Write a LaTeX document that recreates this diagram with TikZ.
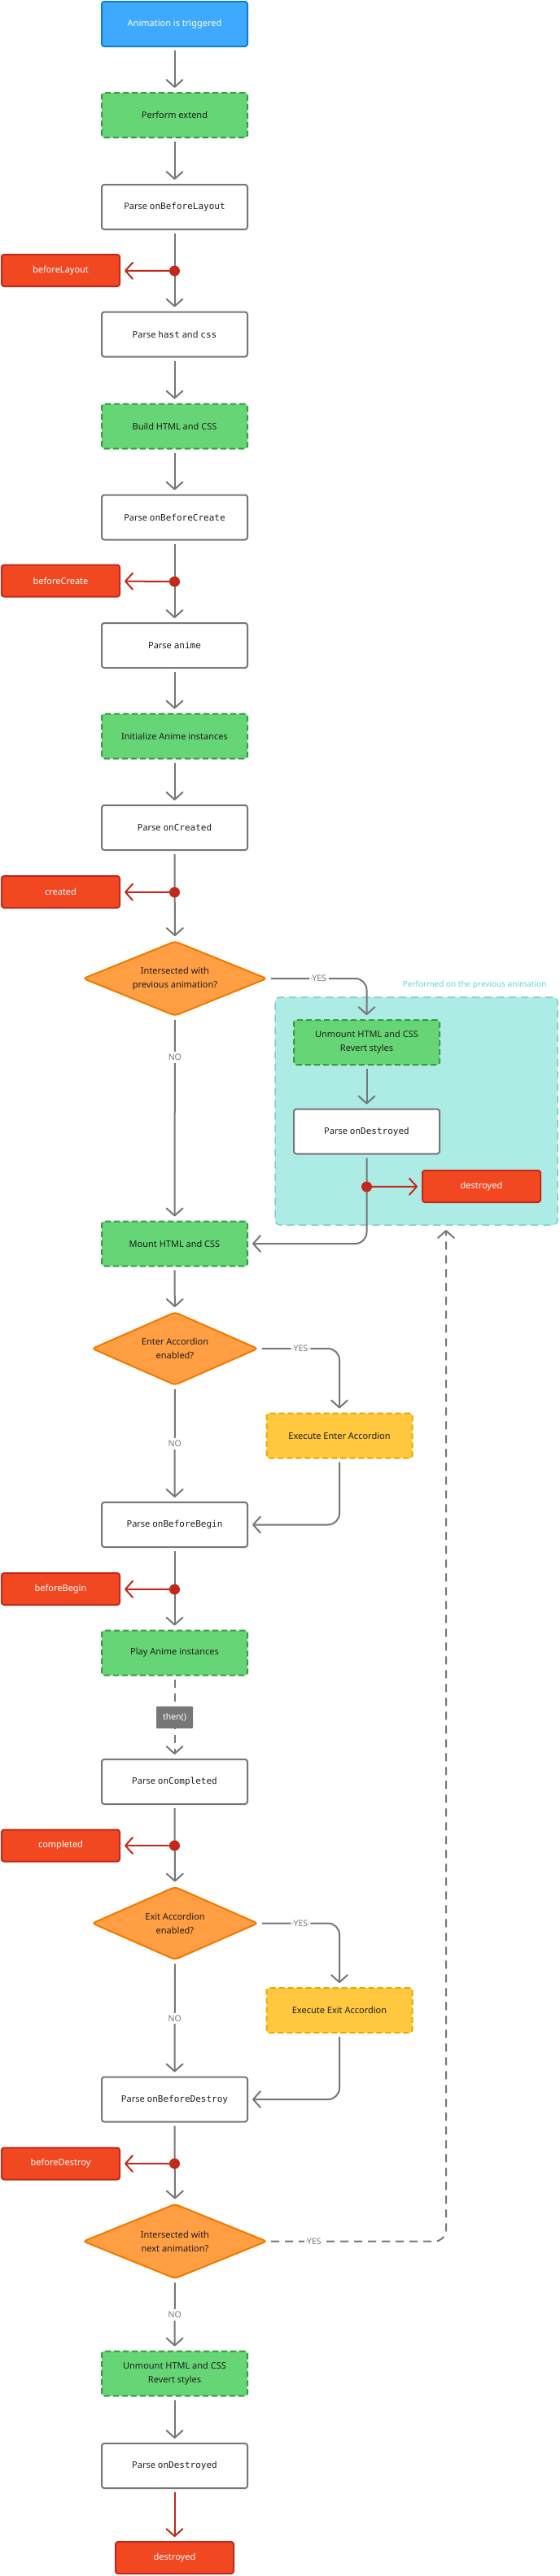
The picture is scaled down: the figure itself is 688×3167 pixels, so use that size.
\documentclass[tikz,border=0pt]{standalone}
\usepackage{fontspec}
\setmainfont{Noto Sans}
\setmonofont{DejaVu Sans Mono}
\usetikzlibrary{arrows.meta,shapes.geometric,positioning}

\definecolor{linegray}{HTML}{777777}
\definecolor{txtdark}{HTML}{1E1E1E}
\definecolor{bluefill}{HTML}{3FA9FF}
\definecolor{blueline}{HTML}{0A7FDB}
\definecolor{greenfill}{HTML}{66D575}
\definecolor{greenline}{HTML}{3A9A48}
\definecolor{redfill}{HTML}{F24822}
\definecolor{redline}{HTML}{C3281A}
\definecolor{orangefill}{HTML}{FF9E42}
\definecolor{orangeline}{HTML}{F07A00}
\definecolor{yellowfill}{HTML}{FFC83F}
\definecolor{yellowline}{HTML}{EBA800}
\definecolor{tealfill}{HTML}{ADEBE5}
\definecolor{tealline}{HTML}{7CCFC7}
\definecolor{tealtext}{HTML}{5FD8CB}

\begin{document}
\begin{tikzpicture}[x=1pt,y=-1pt,font=\fontsize{11}{17}\selectfont,
box/.style={rectangle,rounded corners=3pt,line width=2pt,minimum width=179pt,minimum height=55pt,inner sep=0pt,align=center,text=txtdark},
start/.style={box,draw=blueline,fill=bluefill,text=white},
task/.style={box,draw=greenline,fill=greenfill,dash pattern=on 7pt off 4pt},
parse/.style={box,draw=linegray,fill=white},
accord/.style={box,draw=yellowline,fill=yellowfill,dash pattern=on 7pt off 4pt},
event/.style={box,draw=redline,fill=redfill,text=white,minimum width=145pt,minimum height=39pt},
decision/.style={diamond,shape aspect=2.5,rounded corners=4pt,line width=2pt,draw=orangeline,fill=orangefill,text=txtdark,align=center,inner sep=0pt,minimum width=226pt,minimum height=92pt},
hook/.style={circle,fill=redline,inner sep=0pt,minimum size=13pt},
answer/.style={fill=white,text=linegray,font=\fontsize{10.5}{12}\selectfont\bfseries,inner sep=3pt},
thenbox/.style={fill=linegray,text=white,font=\fontsize{10.5}{12}\selectfont\bfseries,minimum width=45pt,minimum height=27pt,inner sep=0pt,rounded corners=1pt},
>={Straight Barb[length=9pt,width=20pt,round]},
flow/.style={draw=linegray,line width=2pt,->,shorten >=5pt,shorten <=4pt},
later/.style={flow,dash pattern=on 10pt off 7pt},
fire/.style={draw=redline,line width=2pt,->,shorten >=5pt}]
\fill[white] (0,0) rectangle (688,3167);
\useasboundingbox (0,0) rectangle (688,3167);

\node[start] (anim) at (214.5,29.5) {Animation is triggered};
\node[task] (extend) at (214.5,141.5) {Perform extend};
\node[parse] (pbl) at (214.5,254.5) {Parse \texttt{onBeforeLayout}};
\node[event] (ebl) at (74.5,332.5) {beforeLayout};
\node[parse] (hast) at (214.5,411) {Parse \texttt{hast} and \texttt{css}};
\node[task] (build) at (214.5,524) {Build HTML and CSS};
\node[parse] (pbc) at (214.5,636) {Parse \texttt{onBeforeCreate}};
\node[event] (ebc) at (74.5,714) {beforeCreate};
\node[parse] (anime) at (214.5,793.5) {Parse \texttt{anime}};
\node[task] (init) at (214.5,905) {Initialize Anime instances};
\node[parse] (pcr) at (214.5,1017.5) {Parse \texttt{onCreated}};
\node[event] (ecr) at (74.5,1096.5) {created};
\node[decision] (prev) at (215,1203) {Intersected with\\previous animation?};

\node[draw=tealline,fill=tealfill,line width=1.5pt,dash pattern=on 9pt off 6pt,rounded corners=6pt,minimum width=347pt,minimum height=280pt] (region) at (511.5,1366) {};
\node[anchor=east,text=tealtext,font=\fontsize{10}{12}\selectfont\bfseries] (regiontext) at (675,1211) {Performed on the previous animation};
\node[task] (unm1) at (450.5,1281.5) {Unmount HTML and CSS\\Revert styles};
\node[parse] (pd1) at (450.5,1391) {Parse \texttt{onDestroyed}};
\node[event] (ed1) at (591.5,1458.5) {destroyed};
\coordinate (back) at (548,1507);

\node[task] (mount) at (214.5,1529) {Mount HTML and CSS};
\node[decision,minimum width=204pt,minimum height=90pt] (enter) at (215,1658) {Enter Accordion\\enabled?};
\node[accord] (xenter) at (417,1765) {Execute Enter Accordion};
\node[parse] (pbb) at (214.5,1874.5) {Parse \texttt{onBeforeBegin}};
\node[event] (ebb) at (74.5,1953.5) {beforeBegin};
\node[task] (play) at (214.5,2032) {Play Anime instances};
\node[parse] (pco) at (214.5,2190.5) {Parse \texttt{onCompleted}};
\node[event] (eco) at (74.5,2269) {completed};
\node[decision,minimum width=204pt,minimum height=90pt] (leave) at (215,2364.5) {Exit Accordion\\enabled?};
\node[accord] (xleave) at (417,2471.5) {Execute Exit Accordion};
\node[parse] (pbd) at (214.5,2581) {Parse \texttt{onBeforeDestroy}};
\node[event] (ebd) at (74.5,2660) {beforeDestroy};
\node[decision] (next) at (215,2755.5) {Intersected with\\next animation?};
\node[task] (unm2) at (214.5,2918) {Unmount HTML and CSS\\Revert styles};
\node[parse] (pd2) at (214.5,3031.5) {Parse \texttt{onDestroyed}};
\node[event] (ed2) at (214.5,3144.5) {destroyed};

\path[flow]
(anim) edge (extend)
(extend) edge (pbl)
(pbl) edge (hast)
(hast) edge (build)
(build) edge (pbc)
(pbc) edge (anime)
(anime) edge (init)
(init) edge (pcr)
(pcr) edge (prev)
(prev) edge node[answer,pos=0.2] {NO} (mount)
(unm1) edge (pd1)
(mount) edge (enter)
(enter) edge node[answer] {NO} (pbb)
(pbb) edge (play)
(pco) edge (leave)
(leave) edge node[answer] {NO} (pbd)
(pbd) edge (next)
(next) edge node[answer] {NO} (unm2)
(unm2) edge (pd2)
;
\path[later] (play) edge node[thenbox] {then()} (pco);

\draw[flow,rounded corners=14pt] (prev.east) -| node[answer,pos=0.26] {YES} (unm1.north);
\draw[flow,rounded corners=14pt] (pd1.south) |- (mount.east);
\draw[flow,rounded corners=14pt] (enter.east) -| node[answer,pos=0.26] {YES} (xenter.north);
\draw[flow,rounded corners=14pt] (xenter.south) |- (pbb.east);
\draw[flow,rounded corners=14pt] (leave.east) -| node[answer,pos=0.26] {YES} (xleave.north);
\draw[flow,rounded corners=14pt] (xleave.south) |- (pbd.east);
\draw[later,rounded corners=14pt] (next.east) -| node[answer,pos=0.13] {YES} (back);

\node[hook] (hbl) at (214.5,333) {};
\node[hook] (hbc) at (214.5,715) {};
\node[hook] (hcr) at (214.5,1097) {};
\node[hook] (hd1) at (450.5,1459) {};
\node[hook] (hbb) at (214.5,1954) {};
\node[hook] (hco) at (214.5,2269) {};
\node[hook] (hbd) at (214.5,2660) {};

\path[fire]
(hbl) edge (ebl)
(hbc) edge (ebc)
(hcr) edge (ecr)
(hd1) edge (ed1)
(hbb) edge (ebb)
(hco) edge (eco)
(hbd) edge (ebd)
;
\path[fire,shorten <=4pt] (pd2) edge (ed2);
\end{tikzpicture}
\end{document}
